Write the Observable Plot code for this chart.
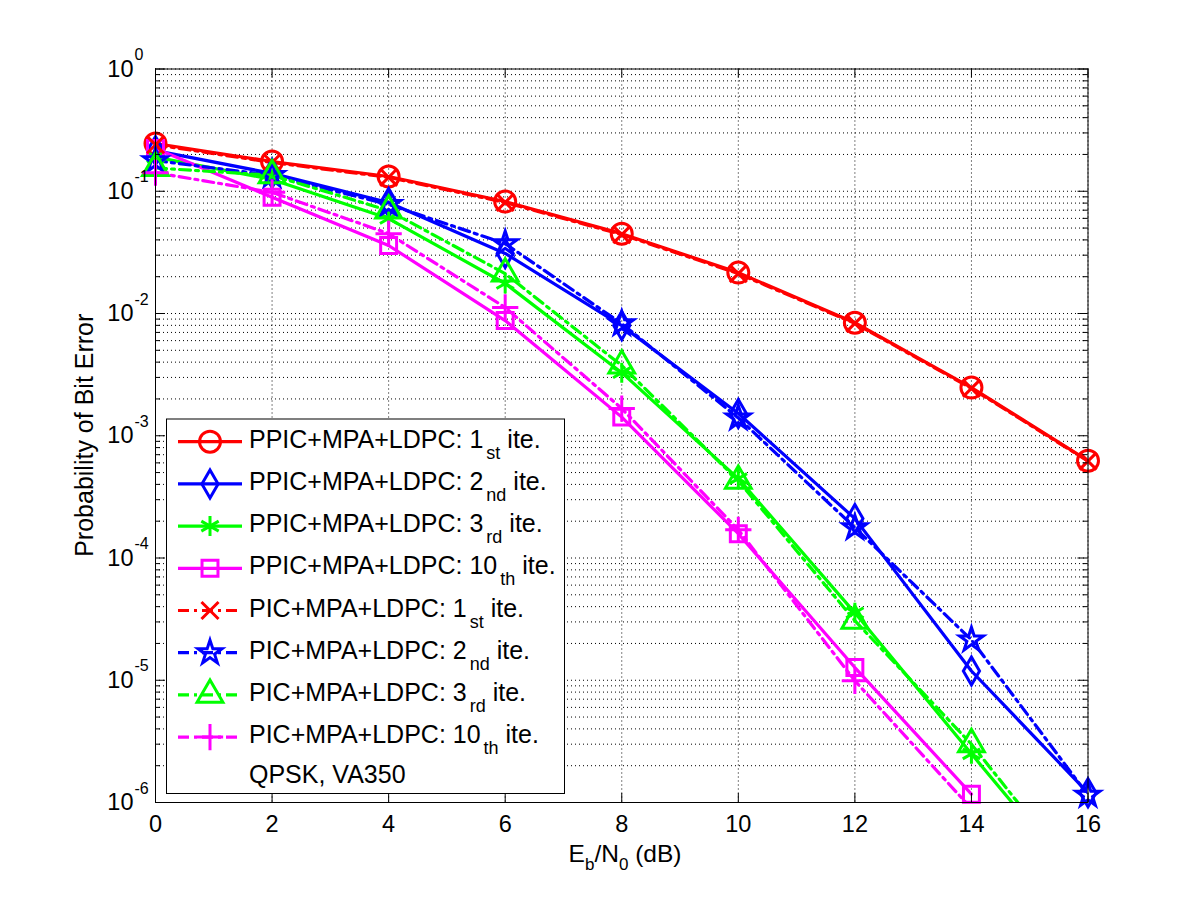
<!DOCTYPE html>
<html><head><meta charset="utf-8">
<script src="https://cdn.jsdelivr.net/npm/d3@7"></script>
<script src="https://cdn.jsdelivr.net/npm/@observablehq/plot@0.6"></script>
<style>
body{margin:0;background:#fff;}
svg{font-family:"Liberation Sans",Arial,Helvetica,sans-serif;}
</style>
</head><body><div id="chart"></div>
<script>
// ---- data ----
const ebn0 = [0, 2, 4, 6, 8, 10, 12, 14, 16];
const ppic1  = [0.246, 0.175, 0.132, 0.0824, 0.045, 0.0216, 0.0084, 0.00248, 0.000625];
const ppic2  = [0.215, 0.140, 0.081, 0.031, 0.00796, 0.00152, 0.00021, 1.19e-5, 1.2e-6];
const ppic3  = [0.19, 0.125, 0.0598, 0.0176, 0.00328, 0.000446, 3.56e-5, 2.5e-6, 1.8e-7];
const ppic10 = [0.224, 0.0893, 0.036, 0.00875, 0.00142, 0.000158, 1.27e-5, 1.17e-6];
const pic1   = [0.240, 0.172, 0.130, 0.0810, 0.0442, 0.0212, 0.0083, 0.00244, 0.00062];
const pic2   = [0.178, 0.135, 0.078, 0.0373, 0.00826, 0.0014, 0.000177, 2.14e-5, 1.15e-6];
const pic3   = [0.155, 0.135, 0.0695, 0.0212, 0.00375, 0.000428, 3.07e-5, 3.0e-6, 1.9e-7];
const pic10  = [0.142, 0.098, 0.045, 0.0112, 0.00167, 0.00017, 9.9e-6, 8.9e-7];

const seriesNames = [
  ["PPIC+MPA+LDPC: ", "1", "st"],
  ["PPIC+MPA+LDPC: ", "2", "nd"],
  ["PPIC+MPA+LDPC: ", "3", "rd"],
  ["PPIC+MPA+LDPC: ", "10", "th"],
  ["PIC+MPA+LDPC: ", "1", "st"],
  ["PIC+MPA+LDPC: ", "2", "nd"],
  ["PIC+MPA+LDPC: ", "3", "rd"],
  ["PIC+MPA+LDPC: ", "10", "th"]
];
const seriesValues = [ppic1, ppic2, ppic3, ppic10, pic1, pic2, pic3, pic10];
const seriesColors = ["#ff0000", "#0000ff", "#00ff00", "#ff00ff", "#ff0000", "#0000ff", "#00ff00", "#ff00ff"];
const seriesSymbols = ["circle", "diamond", "asterisk", "square", "times", "star", "triangle", "plus"];
const symbolR = [10.5, 8.5, 9.5, 9, 7.8, 7.5, 9.6, 8.5];
const seriesDash = [null, null, null, null, "11,5,3,5", "11,5,3,5", "11,5,3,5", "11,5,3,5"];
const noteText = "QPSK, VA350";

const xTicks = [0, 2, 4, 6, 8, 10, 12, 14, 16];
const yExps = [0, -1, -2, -3, -4, -5, -6];

// ---- derived tables ----
const tables = seriesValues.map((vals, i) => vals.map((v, j) => ({x: ebn0[j], y: v, s: i})));
const yMajor = yExps.map(e => Math.pow(10, e));
const yMinor = [];
for (let e = -6; e < 0; e++) for (let k = 2; k <= 9; k++) yMinor.push(k * Math.pow(10, e));

const W = 1201, H = 901;
const mL = 155, mR = 113.5, mT = 68.5, mB = 99;
const pw = W - mL - mR, ph = H - mT - mB;
const dotted = "1,3";
const FONT = "'Liberation Sans', Arial, Helvetica, sans-serif";

const marks = [
  Plot.ruleY(yMinor, {stroke: "#000", strokeWidth: 1, strokeDasharray: dotted}),
  Plot.ruleY(yMajor, {stroke: "#000", strokeWidth: 1, strokeDasharray: dotted}),
  Plot.ruleX(xTicks, {stroke: "#000", strokeWidth: 1, strokeDasharray: dotted}),
];
seriesValues.forEach((vals, i) => {
  marks.push(Plot.line(tables[i], {x: "x", y: "y", stroke: seriesColors[i], strokeWidth: 3.2,
    strokeDasharray: seriesDash[i] || undefined, clip: true}));
});
seriesValues.forEach((vals, i) => {
  marks.push(Plot.dot(tables[i].filter(d => d.y >= 1e-6), {x: "x", y: "y", symbol: () => seriesSymbols[i],
    r: symbolR[i], stroke: seriesColors[i], strokeWidth: 3, fill: "none"}));
});
marks.push(
  Plot.ruleX(xTicks, {stroke: "#000", insetTop: ph - 9}),
  Plot.ruleX(xTicks, {stroke: "#000", insetBottom: ph - 9}),
  Plot.ruleY(yMajor, {stroke: "#000", insetRight: pw - 10}),
  Plot.ruleY(yMajor, {stroke: "#000", insetLeft: pw - 10}),
  Plot.ruleY(yMinor, {stroke: "#000", insetRight: pw - 5}),
  Plot.ruleY(yMinor, {stroke: "#000", insetLeft: pw - 5}),
  Plot.frame({stroke: "#000", strokeWidth: 1}),
  Plot.text(xTicks, {x: d => d, frameAnchor: "bottom", lineAnchor: "middle", dy: 22, text: d => String(d), fontSize: 23.5, fill: "#000"}),
  Plot.text(yMajor, {y: d => d, frameAnchor: "left", textAnchor: "end", lineAnchor: "middle", dx: -22, text: () => "10", fontSize: 23.5, fill: "#000"}),
  Plot.text(yMajor, {y: d => d, frameAnchor: "left", textAnchor: "start", lineAnchor: "middle", dx: -21, dy: -14, text: d => String(Math.round(Math.log10(d))), fontSize: 16, fill: "#000"})
);

const svg = Plot.plot({
  width: W, height: H,
  marginLeft: mL, marginRight: mR, marginTop: mT, marginBottom: mB,
  x: {domain: [0, 16], axis: null},
  y: {type: "log", domain: [1e-6, 1], axis: null},
  style: {background: "#fff", fontFamily: FONT, overflow: "visible"},
  marks
});
document.getElementById("chart").appendChild(svg);

const g = d3.select(svg).append("g").attr("font-family", FONT).attr("fill", "#000").attr("text-anchor", "start");

// x label with subscripts
const xl = g.append("text").attr("x", 625).attr("y", 862).attr("text-anchor", "middle").attr("font-size", 24.5);
xl.append("tspan").text("E");
xl.append("tspan").attr("font-size", 17).attr("dy", 8).text("b");
xl.append("tspan").attr("dy", -8).text("/N");
xl.append("tspan").attr("font-size", 17).attr("dy", 8).text("0");
xl.append("tspan").attr("dy", -8).text(" (dB)");

// y label
g.append("text").attr("transform", `translate(93,${mT + ph / 2}) rotate(-90)`)
  .attr("text-anchor", "middle").attr("font-size", 25).text("Probability of Bit Error");

// legend
const lx0 = 166, ly0 = 418.5, lx1 = 564, ly1 = 793;
const leg = g.append("g").attr("text-anchor", "start");
leg.append("rect").attr("x", lx0 + 0.5).attr("y", ly0 + 0.5).attr("width", lx1 - lx0).attr("height", ly1 - ly0)
  .attr("fill", "#fff").attr("stroke", "#000").attr("stroke-width", 1);
const rowY = i => 441.7 + i * 42.2;
const symMap = {circle: d3.symbolCircle, diamond: d3.symbolDiamond, asterisk: d3.symbolAsterisk, square: d3.symbolSquare,
  times: d3.symbolTimes, star: d3.symbolStar, triangle: d3.symbolTriangle, plus: d3.symbolPlus};
seriesNames.forEach((nm, i) => {
  const y = rowY(i);
  leg.append("line").attr("x1", 178).attr("x2", 242).attr("y1", y).attr("y2", y)
    .attr("stroke", seriesColors[i]).attr("stroke-width", 3.2).attr("stroke-dasharray", seriesDash[i]);
  leg.append("path").attr("transform", `translate(210,${y})`)
    .attr("d", d3.symbol(symMap[seriesSymbols[i]], Math.PI * symbolR[i] * symbolR[i])())
    .attr("fill", "none").attr("stroke", seriesColors[i]).attr("stroke-width", 3);
  const t = leg.append("text").attr("x", 249).attr("y", y + 6).attr("font-size", 25).attr("text-anchor", "start");
  t.append("tspan").text(nm[0] + nm[1]);
  t.append("tspan").attr("font-size", 18).attr("dx", 3).attr("dy", 11).text(nm[2]);
  t.append("tspan").attr("dy", -11).text(" ite.");
});
leg.append("text").attr("x", 249).attr("y", 783).attr("font-size", 25).attr("text-anchor", "start").text(noteText);
</script>
</body></html>
